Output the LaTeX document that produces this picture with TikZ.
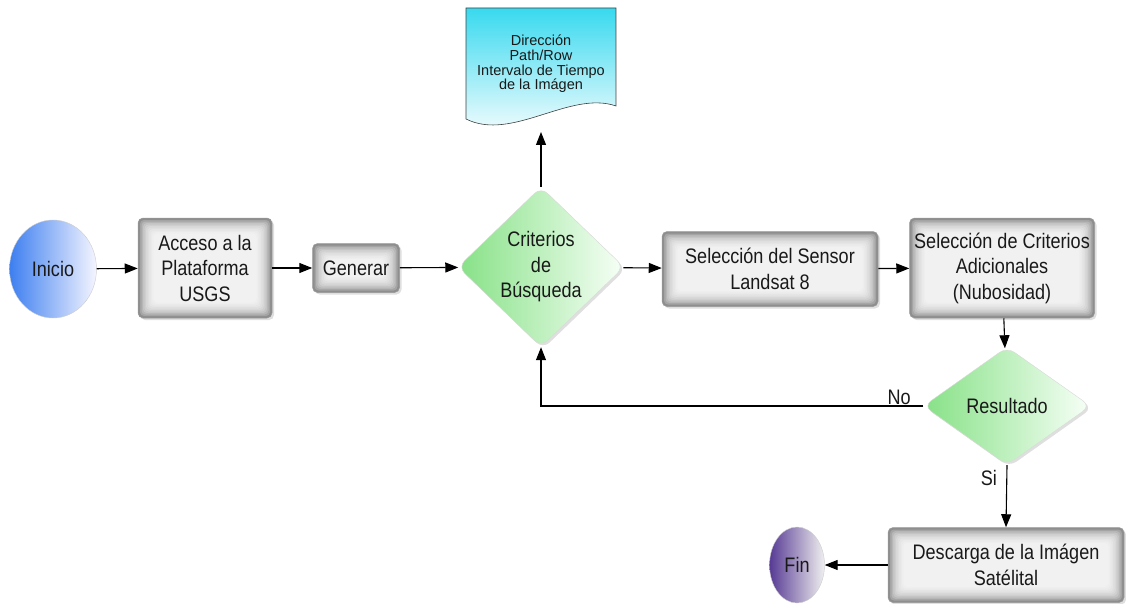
\documentclass[tikz,border=0pt]{standalone}
\usepackage{fontspec}
\setmainfont{Liberation Sans}[FakeStretch=0.86]
\newfontfamily\hojafont{Liberation Sans}
\usepackage{tikz}
\usetikzlibrary{
  shapes.geometric,%
  % filled triangle tips
  arrows.meta,%
  shadows,%
  calc,%
  positioning
}
\definecolor{cajagris}{HTML}{8E8E8E}
\definecolor{verdedec}{HTML}{86E186}
\definecolor{cianhoja}{HTML}{38D9EF}
\definecolor{azulini}{HTML}{3D7FF0}
\definecolor{moradofin}{HTML}{573A94}
\tikzset{>={Triangle[length=13pt,width=10pt]}}
\tikzset{font=\fontsize{21}{25.5}\selectfont}
\tikzset{
  proceso/.style={rectangle, rounded corners=5pt, fill=cajagris,
    draw=black!40, line width=0.5pt, align=center, inner sep=0pt,
    drop shadow={opacity=0.25, shadow xshift=2pt, shadow yshift=-2pt},
    path picture={
      \foreach \k in {0,...,9}
        \fill[white, opacity=0.2, rounded corners=4pt]
          ($(path picture bounding box.north west)+(\k*1.5pt+2pt,-\k*1.5pt-2pt)$)
          rectangle
          ($(path picture bounding box.south east)+(-\k*1.5pt-2pt,\k*1.5pt+2pt)$);
    }},
  decision/.style={diamond, rounded corners=9pt, inner sep=0pt, align=center,
    left color=verdedec, right color=green!3, draw=black!15,
    drop shadow={opacity=0.25, shadow xshift=2pt, shadow yshift=-2pt}},
  terminal/.style={ellipse, inner sep=0pt, draw=black!20},
  flecha/.style={->, line width=1.1pt},
}

\begin{document}
\begin{tikzpicture}[x=1pt, y=-1pt, text=black!90]
  \useasboundingbox (0,0) rectangle (1126,604);

  \node[terminal, minimum width=87pt, minimum height=98pt,
    left color=azulini, right color=blue!4] (inicio) at (53,269) {Inicio};
  \node[proceso, minimum width=134pt, minimum height=100pt] (acceso) at (205,268)
    {Acceso a la\\Plataforma\\USGS};
  \node[proceso, minimum width=87pt, minimum height=49pt] (generar) at (356,268) {Generar};
  \node[decision, minimum width=166pt, minimum height=160pt] (criterios) at (541,267)
    {Criterios\\de\\B\'usqueda};
  \node[proceso, minimum width=216pt, minimum height=75pt] (sensor) at (770,269)
    {Selecci\'on del Sensor\\Landsat 8};
  \node[proceso, minimum width=185pt, minimum height=100pt] (adicional) at (1002,268)
    {Selecci\'on de Criterios\\Adicionales\\(Nubosidad)};
  \node[decision, minimum width=167pt, minimum height=118pt] (resultado) at (1007,406)
    {Resultado};
  \node[proceso, minimum width=236pt, minimum height=75pt] (descarga) at (1006,565)
    {Descarga de la Im\'agen\\Sat\'elital};
  \node[terminal, minimum width=55pt, minimum height=76pt,
    left color=moradofin, right color=black!6] (fin) at (797,565) {Fin};

  % hoja de datos
  \draw[top color=cianhoja, bottom color=white, draw=black!75, line width=0.6pt]
    (466,8) -- (616,8) -- (616,106) .. controls (570,90) and (512,142) .. (466,119) -- cycle;
  \node[align=center, font=\hojafont\fontsize{14.5}{14.7}\selectfont] (hoja) at (541,64)
    {Direcci\'on\\Path/Row\\Intervalo de Tiempo\\de la Im\'agen};
  \coordinate (hojapie) at (541,132);

  \draw[flecha] (inicio) -- (acceso);
  \draw[flecha] (acceso) -- (generar);
  \draw[flecha] (generar) -- (criterios);
  \draw[flecha] (criterios.north) -- (hojapie);
  \draw[flecha] (criterios) -- (sensor);
  \draw[flecha] (sensor) -- (adicional);
  \draw[flecha] (adicional) -- (resultado);
  \draw[flecha] (resultado.west) -- node[pos=0, anchor=south east, xshift=-11pt, inner sep=1pt] {No}
    (criterios.south |- resultado.west) -- (criterios.south);
  \draw[flecha] (resultado.south) -- node[pos=0.2, left, xshift=-6pt] {Si} (descarga.north);
  \draw[flecha] (descarga) -- (fin);
\end{tikzpicture}
\end{document}
